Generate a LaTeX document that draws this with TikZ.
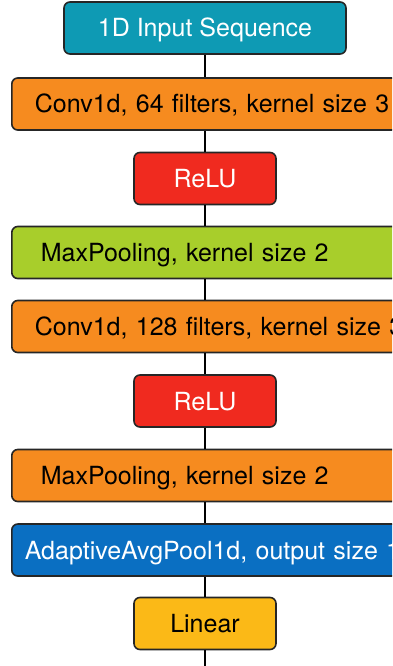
\documentclass[tikz,border=0pt]{standalone}
\usepackage{fontspec}
\setmainfont{TeX Gyre Heros}
\definecolor{inputcol}{HTML}{0E9AB4}
\definecolor{convcol}{HTML}{F68B1F}
\definecolor{relucol}{HTML}{F02A1F}
\definecolor{poolcol}{HTML}{A8CE2B}
\definecolor{avgcol}{HTML}{0A6FC2}
\definecolor{lincol}{HTML}{FBB917}
\begin{document}
\begin{tikzpicture}[x=1pt, y=1pt,
    box/.style={draw=black!85, line width=1.6pt, rounded corners=6pt, minimum height=52pt, inner sep=0pt, text height=20pt, text depth=2pt, font=\fontsize{25}{30}\selectfont},
    small/.style={box, minimum width=142pt},
    wide/.style={box, text width=420pt, align=left, anchor=west}]

    \useasboundingbox (0,0) rectangle (392,-666);
    \clip (0,0) rectangle (392,-666);

    \node[box, minimum width=282pt, fill=inputcol, text=white] (inp) at (205,-28) {1D Input Sequence};
    \node[wide, fill=convcol] (conv1) at (11,-104) {\hspace*{23pt}Conv1d, 64 filters, kernel size 3};
    \node[small, fill=relucol, text=white] (relu1) at (205,-178.5) {ReLU};
    \node[wide, fill=poolcol] (pool1) at (11,-252.5) {\hspace*{29pt}MaxPooling, kernel size 2};
    \node[wide, fill=convcol] (conv2) at (11,-326.5) {\hspace*{23pt}Conv1d, 128 filters, kernel size 3};
    \node[small, fill=relucol, text=white] (relu2) at (205,-401) {ReLU};
    \node[wide, fill=convcol] (pool2) at (11,-475.5) {\hspace*{29pt}MaxPooling, kernel size 2};
    \node[wide, fill=avgcol, text=white] (avg) at (11,-550) {\hspace*{13pt}AdaptiveAvgPool1d, output size 1};
    \node[small, fill=lincol] (lin) at (205,-623.5) {Linear};
    \coordinate (out) at (205,-670);

    % connectors down the stack, all on the axis of the input box
    \foreach \top/\bot in {inp/conv1, conv1/relu1, relu1/pool1, pool1/conv2, conv2/relu2, relu2/pool2, pool2/avg, avg/lin}
        \draw[line width=1.8pt] (inp.south |- \top.south) -- (inp.south |- \bot.north);
    \draw[line width=1.8pt] (lin.south) -- (out);

\end{tikzpicture}
\end{document}
